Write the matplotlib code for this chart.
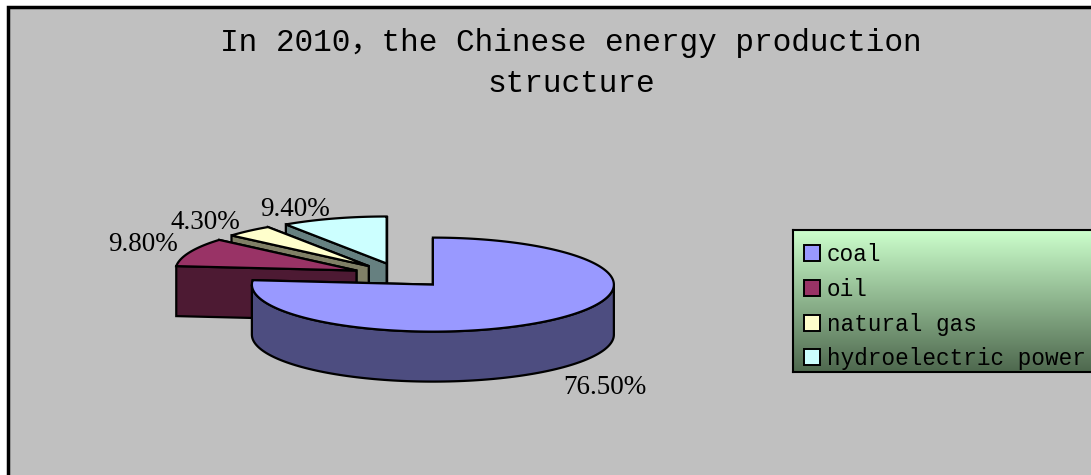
import numpy as np
import matplotlib.pyplot as plt
from matplotlib.patches import Polygon, Patch, Rectangle

W, H = 1091, 475

categories = ['coal', 'oil', 'natural gas', 'hydroelectric power']
shares = [76.5, 9.8, 4.3, 9.4]
pct_labels = ['76.50%', '9.80%', '4.30%', '9.40%']
top_colors = ['#9999FF', '#993366', '#FFFFCC', '#CCFFFF']
side_colors = ['#4D4D80', '#4D1A33', '#808066', '#668080']
title = 'In 2010，the Chinese energy production\nstructure'

mono = ['Liberation Mono', 'Noto Sans CJK SC', 'DejaVu Sans']
serif = ['Liberation Serif', 'DejaVu Serif']

# pie geometry in pixels (y grows downwards)
cx, cy = 400.6, 275.4
a, b, depth = 181, 47, 50
explode = 0.265

fig = plt.figure(figsize=(W / 100, H / 100), dpi=100, facecolor='white')
ax = fig.add_axes([0, 0, 1, 1])
ax.set_xlim(0, W)
ax.set_ylim(H, 0)
ax.axis('off')

ax.add_patch(Rectangle((8, 7), W, H, facecolor='#C0C0C0', edgecolor='black',
                       lw=2.5, zorder=0))


def rim(t, ox, oy, dz=0.0):
    t = np.radians(t)
    return np.column_stack([ox + a * np.cos(t), oy - b * np.sin(t) + dz])


slices = []
start = 90.0
for i, s in enumerate(shares):
    th1 = start
    th2 = start - s * 3.6
    start = th2
    m = (th1 + th2) / 2
    ox = cx + explode * a * np.cos(np.radians(m))
    oy = cy - explode * b * np.sin(np.radians(m))
    slices.append((i, th1, th2, m, ox, oy))

z = 1
lw = 1.6
for i, th1, th2, m, ox, oy in sorted(slices, key=lambda q: -np.sin(np.radians(q[3]))):
    apex = np.array([[ox, oy]])
    # radial faces, back one first
    for th in sorted([th1, th2], key=lambda t: -np.sin(np.radians(t))):
        p = rim(th, ox, oy)
        quad = np.vstack([apex, p, p + [0, depth], apex + [0, depth]])
        ax.add_patch(Polygon(quad, closed=True, facecolor=side_colors[i],
                             edgecolor='black', lw=lw, zorder=z))
        z += 1
    # outer wall, front half only
    for k in (-1, 0, 1):
        lo = max(th2, -180 + 360 * k)
        hi = min(th1, 360 * k)
        if hi > lo:
            t = np.linspace(lo, hi, 120)
            top = rim(t, ox, oy)
            bot = rim(t, ox, oy, depth)
            ax.add_patch(Polygon(np.vstack([top, bot[::-1]]), closed=True,
                                 facecolor=side_colors[i], edgecolor='black',
                                 lw=lw, zorder=z))
            z += 1
    # top face
    t = np.linspace(th2, th1, 200)
    ax.add_patch(Polygon(np.vstack([apex, rim(t, ox, oy)]), closed=True,
                         facecolor=top_colors[i], edgecolor='black', lw=lw,
                         zorder=z))
    z += 1

    cm, sm = np.cos(np.radians(m)), np.sin(np.radians(m))
    lx = ox + 1.07 * a * cm
    if sm > 0:
        ly, va = oy - 1.05 * b * sm, 'baseline'
    else:
        ly, va = oy - 1.15 * b * sm + depth, 'top'
    ax.text(lx, ly, pct_labels[i], fontsize=19.5, family=serif,
            ha='right' if cm < 0 else 'left', va=va, zorder=50)

fig.text(571 / W, 1 - 28 / H, title, ha='center', va='top', fontsize=22.4,
         family=mono, linespacing=1.5, multialignment='center')

# legend box with green gradient
lax = fig.add_axes([793 / W, 1 - 372 / H, (1100 - 793) / W, 142 / H])
c_top = np.array([204, 255, 204]) / 255
c_bot = np.array([78, 104, 78]) / 255
g = np.linspace(0, 1, 256)[:, None]
grad = (c_top * (1 - g) + c_bot * g)[:, None, :]
lax.imshow(grad, aspect='auto', extent=[0, 1, 0, 1], origin='upper')
lax.set_xticks([])
lax.set_yticks([])
for sp in lax.spines.values():
    sp.set_linewidth(1.5)
    sp.set_color('black')
handles = [Patch(facecolor=c, edgecolor='black', lw=1.4) for c in top_colors]
lax.legend(handles, categories, loc='center left', bbox_to_anchor=(0, 0.46),
           frameon=False, borderaxespad=0, borderpad=0.5,
           prop={'family': mono, 'size': 16.3}, handlelength=0.7,
           handleheight=0.7, handletextpad=0.3, labelspacing=0.52)

fig.savefig('out.png', dpi=100, facecolor='white')
